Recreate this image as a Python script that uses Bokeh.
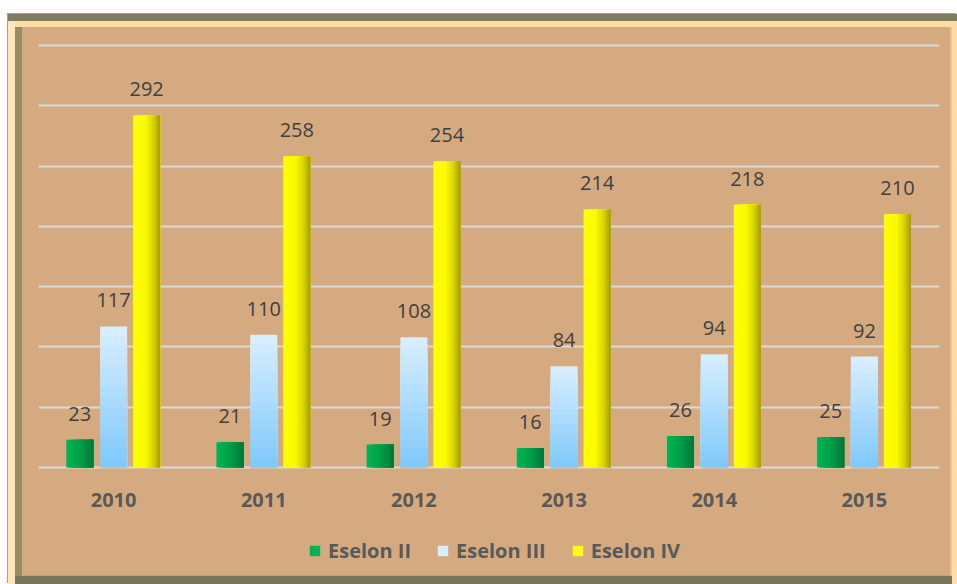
from bokeh.plotting import figure
from bokeh.models import (ColumnDataSource, FactorRange, Range1d, FixedTicker,
                          Legend, LegendItem, Grid)
from bokeh.transform import dodge
from bokeh.core.properties import value
from bokeh.embed import file_html
from bokeh.resources import INLINE

# ---- data ----
years = ["2010", "2011", "2012", "2013", "2014", "2015"]
eselon_ii = [23, 21, 19, 16, 26, 25]
eselon_iii = [117, 110, 108, 84, 94, 92]
eselon_iv = [292, 258, 254, 214, 218, 210]
series_names = ["Eselon II", "Eselon III", "Eselon IV"]
grid_ticks = [0, 50, 100, 150, 200, 250, 300, 350]

# ---- style ----
BG = "#d5aa80"
FONT = "Open Sans"
BAR_W = 0.18
OFFS = [-0.225, 0.0, 0.22]


def hex2rgb(h):
    h = h.lstrip("#")
    return tuple(int(h[i:i + 2], 16) for i in (0, 2, 4))


def grad(stops, t):
    for (t0, c0), (t1, c1) in zip(stops, stops[1:]):
        if t0 <= t <= t1:
            f = 0 if t1 == t0 else (t - t0) / (t1 - t0)
            a, b = hex2rgb(c0), hex2rgb(c1)
            return "#%02x%02x%02x" % tuple(round(a[k] + (b[k] - a[k]) * f) for k in range(3))
    return stops[-1][1]


GREEN = [(0, "#00b452"), (0.5, "#00a048"), (1, "#00763a")]
BLUE = [(0, "#d6eeff"), (1, "#82c9fb")]          # top -> bottom
YELLOW = [(0, "#ffff00"), (0.45, "#fafa00"), (0.75, "#d9d300"), (1, "#a29c00")]

# the frame also holds the category labels and the legend under the zero line
p = figure(x_range=FactorRange(*years), y_range=Range1d(-85.43, 351.66),
           width=949, height=570, output_backend="svg", toolbar_location=None,
           y_axis_location=None, x_axis_location=None,
           min_border_left=30, min_border_right=18, min_border_top=29, min_border_bottom=14,
           background_fill_alpha=0, border_fill_alpha=0, outline_line_color=None)
p.margin = (14, 0, 0, 8)
p.xgrid.visible = False
p.ygrid.visible = False
p.add_layout(Grid(dimension=1, ticker=FixedTicker(ticks=grid_ticks),
                  grid_line_color="#dadada", grid_line_width=2))

data = dict(year=years, ii=eselon_ii, iii=eselon_iii, iv=eselon_iv,
            zero=[0] * len(years),
            t_ii=[str(v) for v in eselon_ii], t_iii=[str(v) for v in eselon_iii],
            t_iv=[str(v) for v in eselon_iv])
N_V = 14
for i in range(N_V):
    data["iii_%d" % i] = [v * (1 - i / N_V) for v in eselon_iii]
src = ColumnDataSource(data)


def hstrips(col, off, stops, n):
    first = None
    for i in range(n):
        f = i / n
        r = p.vbar(x=dodge("year", off + BAR_W * f / 2, range=p.x_range), top=col,
                   width=BAR_W * (1 - f), bottom=0, source=src,
                   fill_color=grad(stops, (i + 0.5) / n), line_color=None)
        if first is None:
            first = r
    return first


r_ii = hstrips("ii", OFFS[0], GREEN, 10)
r_iii = None
for i in range(N_V):
    r = p.vbar(x=dodge("year", OFFS[1], range=p.x_range), top="iii_%d" % i, bottom=0,
               width=BAR_W, source=src, fill_color=grad(BLUE, i / (N_V - 1)), line_color=None)
    if r_iii is None:
        r_iii = r
r_iv = hstrips("iv", OFFS[2], YELLOW, 16)

for col, off in (("ii", OFFS[0]), ("iii", OFFS[1]), ("iv", OFFS[2])):
    p.text(x=dodge("year", off, range=p.x_range), y=col, text="t_" + col, source=src,
           text_align="center", text_baseline="alphabetic", y_offset=-26,
           text_font=value(FONT), text_font_size="20px", text_color="#404040")

# category labels under the zero line
p.text(x="year", y="zero", text="year", source=src, text_align="center",
       text_baseline="alphabetic", y_offset=33, text_font=value(FONT),
       text_font_size="20px", text_font_style="bold", text_color="#595959")

legend = Legend(items=[LegendItem(label=series_names[0], renderers=[r_ii]),
                       LegendItem(label=series_names[1], renderers=[r_iii]),
                       LegendItem(label=series_names[2], renderers=[r_iv])],
                orientation="horizontal", location=(270, 6),
                background_fill_alpha=0, border_line_color=None,
                label_text_font=FONT, label_text_font_size="20px",
                label_text_font_style="bold", label_text_color="#595959",
                glyph_width=13, glyph_height=13, label_standoff=7, spacing=25,
                padding=0, margin=0)
p.add_layout(legend, "center")

p.styles = {
    "background": BG,
    "box-shadow": ", ".join([
        "-1px -1px 0 0 #d98a8a",
        "inset 0 7px 0 0 #7d7c5e",
        "inset 7px 0 0 0 #ffe6bd",
        "inset -5px 0 0 0 #ffdcaa",
        "inset 0 -8px 0 0 #77765a",
        "inset 0 13px 0 0 #ffdba5",
        "inset 14px 0 0 0 #968d63",
        "inset -7px 0 0 0 #efc38f",
        "inset 0 -9px 0 0 #bfa27a",
    ]),
}

open("out.html", "w").write(file_html(p, INLINE))
